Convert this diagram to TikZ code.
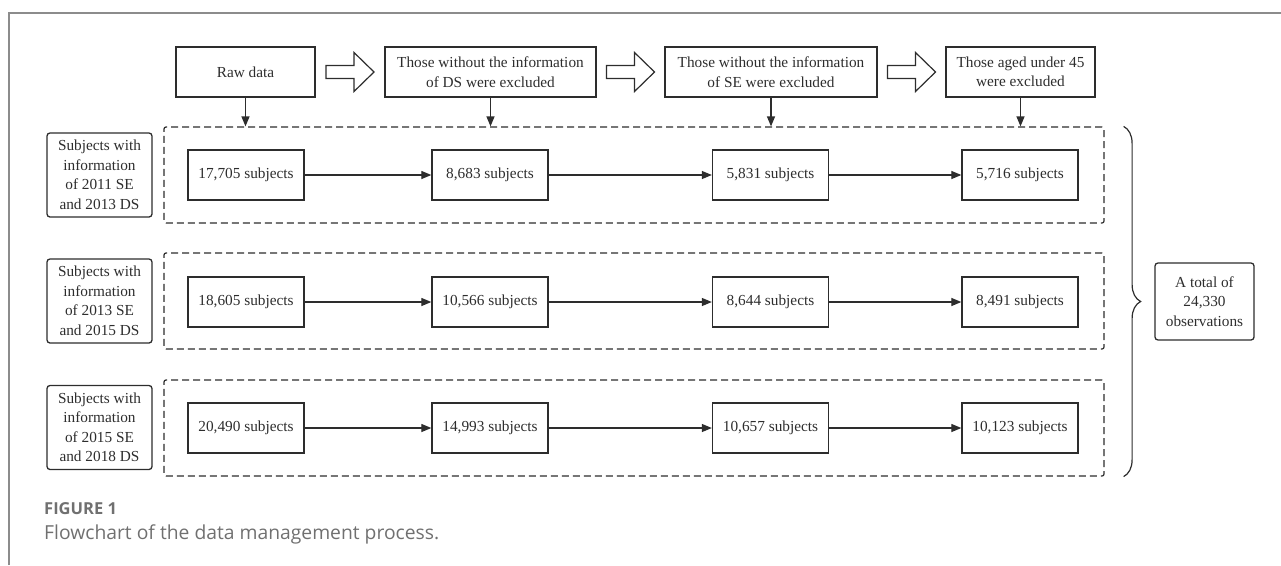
\documentclass[tikz,border=0pt]{standalone}
\usepackage{fontspec}
\setmainfont{Liberation Serif}
\newfontfamily\capfont{Open Sans}
\definecolor{boxgray}{RGB}{45, 45, 45}
\definecolor{framegray}{RGB}{140, 140, 140}
\definecolor{capgray}{RGB}{112, 112, 112}
\usetikzlibrary{arrows.meta, positioning, calc, decorations.pathreplacing}

\begin{document}
\begin{tikzpicture}[x=1pt, y=-1pt,
  font=\fontsize{15.3}{19.5}\selectfont,
  stepbox/.style={draw=boxgray, text=boxgray, line width=1.3pt, align=center, inner sep=0pt, minimum height=50pt},
  countbox/.style={stepbox, minimum width=116pt},
  sidebox/.style={draw=boxgray, text=boxgray, line width=1.3pt, rounded corners=3pt, align=center, inner sep=0pt, minimum width=105pt, minimum height=84pt},
  group/.style={draw=boxgray, line width=1.2pt, dash pattern=on 7pt off 4pt, rounded corners=2pt, inner sep=0pt, minimum width=940pt, minimum height=96pt},
  flow/.style={draw=boxgray, line width=1.2pt, -{Triangle[length=10pt, width=8pt]}},
  fatarrow/.style={draw=boxgray, line width=1.2pt, fill=white, line join=miter}]
  \useasboundingbox (0,0) rectangle (1281,565);

  % Frame
  \draw[framegray, line width=1.5pt] (9,565) -- (9,13) -- (1281,13);

  % Steps
  \node[stepbox, minimum width=139pt] (raw) at (245.5,72) {Raw data};
  \node[stepbox, minimum width=211pt] (ds) at (490.5,72) {Those without the information\\of DS were excluded};
  \node[stepbox, minimum width=212pt] (se) at (771,72) {Those without the information\\of SE were excluded};
  \node[stepbox, minimum width=149pt] (age) at (1020.5,72) {Those aged under 45\\were excluded};
  \foreach \a/\b in {raw/ds, ds/se, se/age}
    \draw[fatarrow] ($(\a.east)!0.5!(\b.west)+(-24,-6.5)$) -- ++(28,0) -- ++(0,-13)
      -- ++(20,19.5) -- ++(-20,19.5) -- ++(0,-13) -- ++(-28,0) -- cycle;

  % Groups
  \node[group] (g1) at (634,175) {};
  \node[group] (g2) at (634,301) {};
  \node[group] (g3) at (634,428) {};

  % Row 1
  \node[sidebox] (lab1) at (99.5,175) {Subjects with\\information\\of 2011 SE\\and 2013 DS};
  \node[countbox] (r1c1) at (246,175) {17,705 subjects};
  \node[countbox] (r1c2) at (490,175) {8,683 subjects};
  \node[countbox] (r1c3) at (770.5,175) {5,831 subjects};
  \node[countbox] (r1c4) at (1020,175) {5,716 subjects};

  % Row 2
  \node[sidebox] (lab2) at (99.5,301) {Subjects with\\information\\of 2013 SE\\and 2015 DS};
  \node[countbox] (r2c1) at (246,302) {18,605 subjects};
  \node[countbox] (r2c2) at (490,302) {10,566 subjects};
  \node[countbox] (r2c3) at (770.5,302) {8,644 subjects};
  \node[countbox] (r2c4) at (1020,302) {8,491 subjects};

  % Row 3
  \node[sidebox] (lab3) at (99.5,427.5) {Subjects with\\information\\of 2015 SE\\and 2018 DS};
  \node[countbox] (r3c1) at (246,428) {20,490 subjects};
  \node[countbox] (r3c2) at (490,428) {14,993 subjects};
  \node[countbox] (r3c3) at (770.5,428) {10,657 subjects};
  \node[countbox] (r3c4) at (1020,428) {10,123 subjects};

  % Arrows
  \draw[flow] (raw) -- (raw |- g1.north);
  \draw[flow] (ds) -- (ds |- g1.north);
  \draw[flow] (se) -- (se |- g1.north);
  \draw[flow] (age) -- (age |- g1.north);
  \draw[flow] (r1c1) -- (r1c2);
  \draw[flow] (r1c2) -- (r1c3);
  \draw[flow] (r1c3) -- (r1c4);
  \draw[flow] (r2c1) -- (r2c2);
  \draw[flow] (r2c2) -- (r2c3);
  \draw[flow] (r2c3) -- (r2c4);
  \draw[flow] (r3c1) -- (r3c2);
  \draw[flow] (r3c2) -- (r3c3);
  \draw[flow] (r3c3) -- (r3c4);

  % Total
  \draw[boxgray, line width=1.2pt, decorate, decoration={brace, amplitude=17pt}]
    ($(g1.north east)+(19,0)$) -- ($(g3.south east)+(19,0)$);
  \node[sidebox, minimum width=99pt, minimum height=77pt] (total) at (1204.5,301.5) {A total of\\24,330\\observations};

  % Caption
  \node[anchor=base west, inner sep=0pt, text=capgray, font=\capfont\bfseries\fontsize{16.5}{20}\selectfont] (fig) at (44,514) {FIGURE 1};
  \node[anchor=base west, inner sep=0pt, text=capgray, font=\capfont\fontsize{19.3}{23}\selectfont] (cap) at (44,539) {Flowchart of the data management process.};
\end{tikzpicture}
\end{document}
